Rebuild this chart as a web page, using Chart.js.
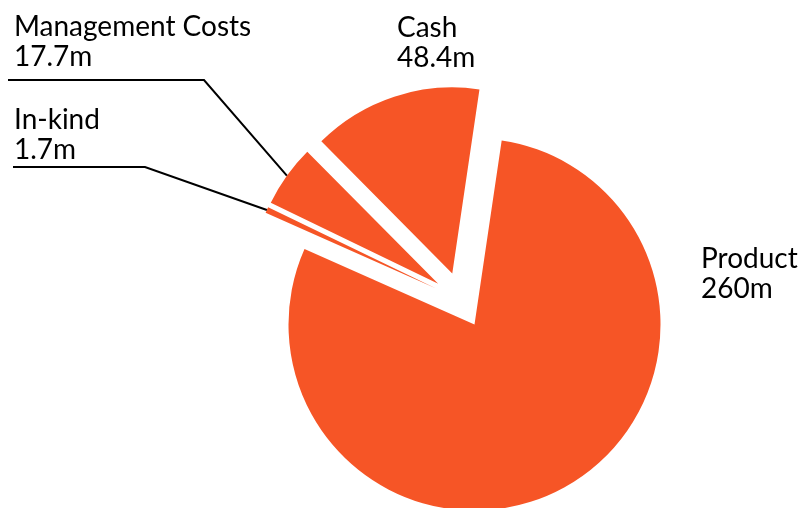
<!DOCTYPE html>
<html>
<head>
<meta charset="utf-8">
<title>Funding split</title>
<script src="https://cdn.jsdelivr.net/npm/chart.js@4.4.0/dist/chart.umd.min.js"></script>
<style>
  html, body { margin: 0; padding: 0; background: #fff; }
  #wrap { width: 807px; height: 508px; overflow: hidden; }
</style>
</head>
<body>
<div id="wrap"><canvas id="chart" width="807" height="508"></canvas></div>
<script>
// Data
const labels = ['Cash', 'Product', 'In-kind', 'Management Costs'];
const values = [48.4, 260, 1.7, 17.7];
const unit = 'm';

// Look
const ORANGE = '#f65526';
const RADIUS = 186;   // px
const EXPLODE = 28;   // px every slice is pulled out from the centre
const FONT = '28px Lato, "Open Sans", sans-serif';

// Where each label's text goes, and the elbow of its leader line (if any)
const labelLayout = [
    { x: 397, y: 37 },
    { x: 701, y: 268 },
    { x: 14, y: 129, line: { x0: 13, y: 167, x1: 145 } },
    { x: 14, y: 36, line: { x0: 8, y: 80, x1: 204 } }
];

// The built-in arc offset also trims thin slices away, so push every slice
// out along its middle angle ourselves
const explode = {
    id: 'explode',
    afterDatasetUpdate(chart, args) {
        args.meta.data.forEach(arc => {
            const mid = (arc.startAngle + arc.endAngle) / 2;
            arc.x += Math.cos(mid) * EXPLODE;
            arc.y += Math.sin(mid) * EXPLODE;
        });
    }
};

const sliceLabels = {
    id: 'sliceLabels',
    afterDatasetsDraw(chart) {
        const ctx = chart.ctx;
        const arcs = chart.getDatasetMeta(0).data;
        ctx.save();
        ctx.font = FONT;
        ctx.fillStyle = '#000';
        ctx.strokeStyle = '#000';
        ctx.lineWidth = 2;
        ctx.textBaseline = 'alphabetic';
        arcs.forEach((arc, i) => {
            const lay = labelLayout[i];
            ctx.fillText(labels[i], lay.x, lay.y);
            ctx.fillText(values[i] + unit, lay.x, lay.y + 30);
            if (lay.line) {
                // leader ends on the middle of the slice's outer edge
                const mid = (arc.startAngle + arc.endAngle) / 2;
                const ex = arc.x + Math.cos(mid) * arc.outerRadius;
                const ey = arc.y + Math.sin(mid) * arc.outerRadius;
                ctx.beginPath();
                ctx.moveTo(lay.line.x0, lay.line.y);
                ctx.lineTo(lay.line.x1, lay.line.y);
                ctx.lineTo(ex, ey);
                ctx.stroke();
            }
        });
        ctx.restore();
    }
};

new Chart(document.getElementById('chart'), {
    type: 'pie',
    data: {
        labels: labels,
        datasets: [{
            data: values,
            backgroundColor: ORANGE,
            borderWidth: 0
        }]
    },
    options: {
        responsive: false,
        animation: false,
        events: [],
        devicePixelRatio: 1,
        radius: RADIUS,
        rotation: -44.75,
        layout: { padding: { left: 115, right: 0, top: 92, bottom: 0 } },
        plugins: {
            legend: { display: false },
            tooltip: { enabled: false }
        }
    },
    plugins: [explode, sliceLabels]
});
</script>
</body>
</html>
